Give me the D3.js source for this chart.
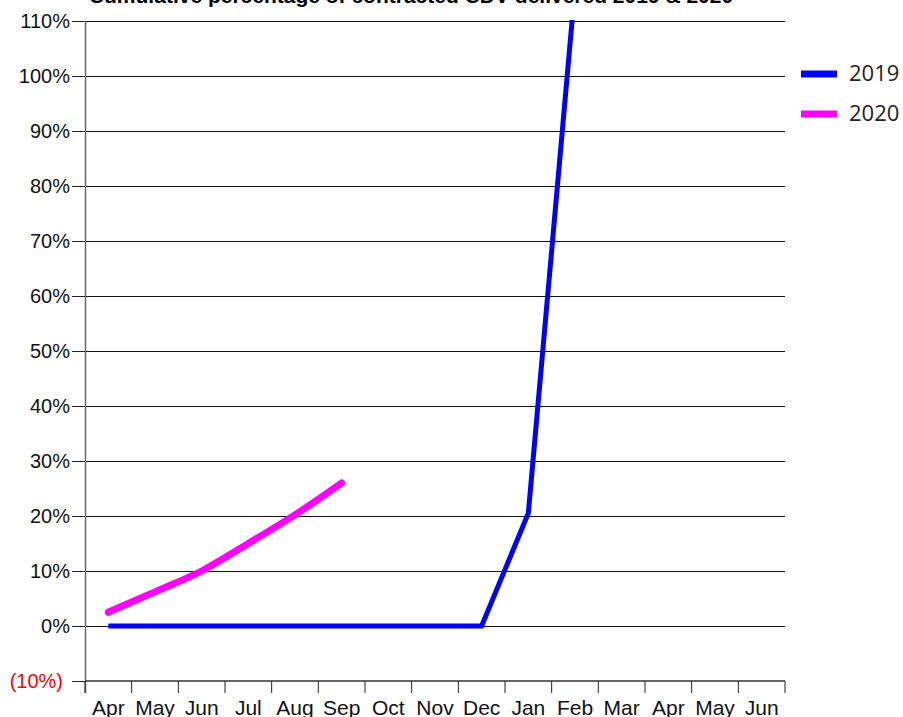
<!DOCTYPE html>
<html>
<head>
<meta charset="utf-8">
<script src="https://cdn.jsdelivr.net/npm/d3@7"></script>
<style>
  html, body { margin: 0; padding: 0; background: #fff; }
  svg { display: block; }
</style>
</head>
<body>
<svg id="chart" width="903" height="717"></svg>
<script>
// Data
const months = ["Apr", "May", "Jun", "Jul", "Aug", "Sep", "Oct", "Nov", "Dec", "Jan", "Feb", "Mar", "Apr ", "May ", "Jun "];
const months2019 = ["Apr", "May", "Jun", "Jul", "Aug", "Sep", "Oct", "Nov", "Dec", "Jan", "Feb"];
const values2019 = [0, 0, 0, 0, 0, 0, 0, 0, 0, 20.5, 116];
const months2020 = ["Apr", "May", "Jun", "Jul", "Aug", "Sep"];
const values2020 = [2.5, 6.2, 10, 15, 20.2, 26];
const yTicks = [-10, 0, 10, 20, 30, 40, 50, 60, 70, 80, 90, 100, 110];

const svg = d3.select("#chart");

const plotLeft = 85, plotRight = 785, plotTop = 21, plotBottom = 681;
const font = "Liberation Sans, Arial, sans-serif";

const x = d3.scaleBand().domain(months).range([plotLeft, plotRight]);
const y = d3.scaleLinear().domain([-10, 110]).range([plotBottom, plotTop]);

// clip the series to the plot area (Feb value runs past the top)
svg.append("defs").append("clipPath").attr("id", "plot-clip")
    .append("rect")
    .attr("x", plotLeft).attr("y", plotTop - 1)
    .attr("width", plotRight - plotLeft).attr("height", plotBottom - plotTop + 1);

// Title (cut off at top like the original)
svg.append("text")
    .attr("x", 411)
    .attr("y", 3)
    .attr("text-anchor", "middle")
    .attr("font-family", font)
    .attr("font-weight", "bold")
    .attr("font-size", "21px")
    .text("Cumulative percentage of contracted CDV delivered 2019 & 2020");

// y ticks and labels
const yAxis = svg.append("g")
    .attr("transform", `translate(${plotLeft},0)`)
    .call(d3.axisLeft(y).tickValues(yTicks).tickSize(13).tickFormat(d => d < 0 ? `(${-d}%)` : `${d}%`));
yAxis.select(".domain").remove();
yAxis.selectAll(".tick line").attr("stroke", "#222");
yAxis.selectAll(".tick text")
    .attr("x", d => d < 0 ? -22 : -15)
    .attr("font-family", font)
    .attr("font-size", "20px")
    .attr("fill", d => d < 0 ? "#f00" : "#111");

// gridlines
svg.append("g")
    .selectAll("line")
    .data(yTicks.filter(d => d > -10))
    .join("line")
    .attr("x1", plotLeft)
    .attr("x2", plotRight)
    .attr("y1", d => Math.round(y(d)) + 0.5)
    .attr("y2", d => Math.round(y(d)) + 0.5)
    .attr("stroke", "#111")
    .attr("stroke-width", 1.2);

// Vertical axis line
svg.append("line")
    .attr("x1", plotLeft + 0.5).attr("x2", plotLeft + 0.5)
    .attr("y1", plotTop).attr("y2", plotBottom + 12)
    .attr("stroke", "#666")
    .attr("stroke-width", 1.5);

// X axis
const xAxis = svg.append("g")
    .attr("transform", `translate(0,${plotBottom})`);
xAxis.append("line")
    .attr("x1", plotLeft).attr("x2", plotRight)
    .attr("stroke", "#333").attr("stroke-width", 1.5);
const tickPos = months.map(m => x(m)).concat([plotRight]);
xAxis.selectAll(".xt")
    .data(tickPos)
    .join("line")
    .attr("class", "xt")
    .attr("x1", d => d).attr("x2", d => d)
    .attr("y1", 0).attr("y2", 12)
    .attr("stroke", "#222");
xAxis.selectAll("text")
    .data(months)
    .join("text")
    .attr("x", d => x(d) + x.bandwidth() / 2)
    .attr("y", 34)
    .attr("text-anchor", "middle")
    .attr("font-family", font)
    .attr("font-size", "21px")
    .attr("fill", "#111")
    .text(d => d.trim());

const cx = m => x(m) + x.bandwidth() / 2;

const series = svg.append("g").attr("clip-path", "url(#plot-clip)");

// 2019 line
series.append("path")
    .datum(months2019.map((m, i) => [cx(m), y(values2019[i])]))
    .attr("fill", "none")
    .attr("stroke", "#0000ff")
    .attr("stroke-width", 5)
    .attr("d", d3.line());

// 2020 line
series.append("path")
    .datum(months2020.map((m, i) => [cx(m), y(values2020[i])]))
    .attr("fill", "none")
    .attr("stroke", "#ff00ff")
    .attr("stroke-width", 7)
    .attr("stroke-linecap", "round")
    .attr("stroke-linejoin", "round")
    .attr("d", d3.line().curve(d3.curveMonotoneX));

// Legend
const legend = [{ name: "2019", color: "#0000ff", y: 74 }, { name: "2020", color: "#ff00ff", y: 114 }];
const lg = svg.append("g").selectAll("g").data(legend).join("g");
lg.append("line")
    .attr("x1", 801).attr("x2", 837)
    .attr("y1", d => d.y).attr("y2", d => d.y)
    .attr("stroke", d => d.color)
    .attr("stroke-width", 7);
lg.append("text")
    .attr("x", 849)
    .attr("y", d => d.y + 7)
    .attr("font-family", "Open Sans, Noto Sans, sans-serif")
    .attr("font-size", "22px")
    .attr("fill", "#222")
    .text(d => d.name);
</script>
</body>
</html>
